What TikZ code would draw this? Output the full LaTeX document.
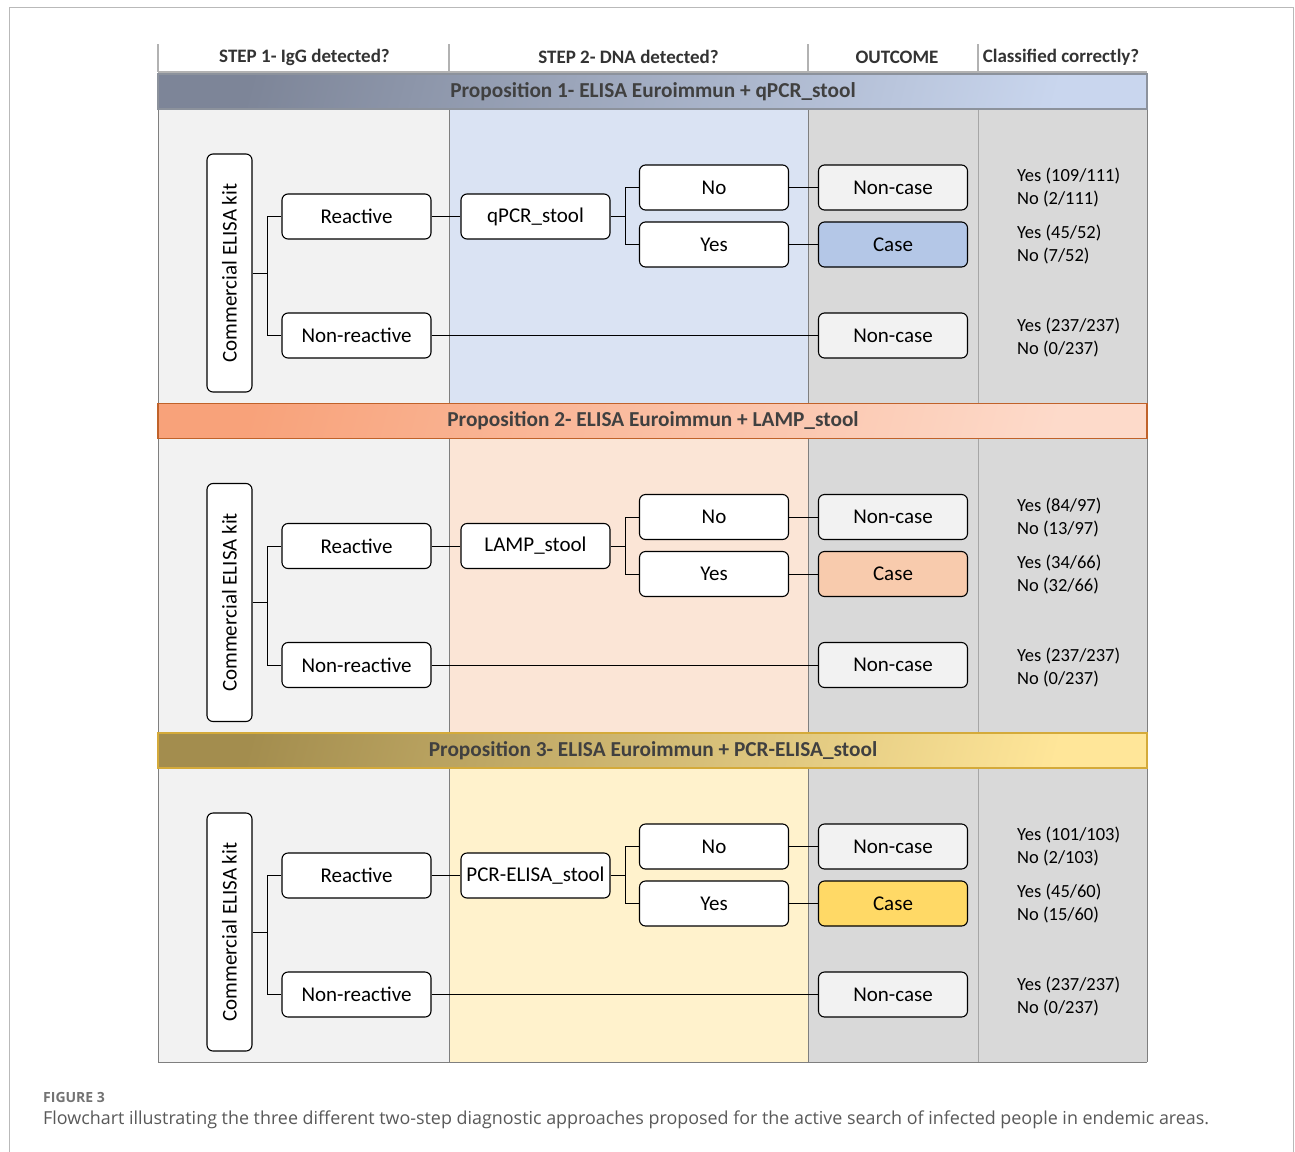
\documentclass[tikz,border=0pt]{standalone}
\usepackage{fontspec}
\setmainfont{Carlito}
\newfontfamily\capfont{Open Sans}
\usetikzlibrary{calc}
\definecolor{leftcol}{HTML}{F2F2F2}
\definecolor{rightcol}{HTML}{D9D9D9}
\definecolor{midA}{HTML}{DAE3F3}
\definecolor{midB}{HTML}{FBE5D6}
\definecolor{midC}{HTML}{FFF2CC}
\definecolor{caseA}{HTML}{B4C7E7}
\definecolor{caseB}{HTML}{F8CBAD}
\definecolor{caseC}{HTML}{FFD966}
\definecolor{banAl}{HTML}{7D8598}
\definecolor{banAr}{HTML}{C9D6EE}
\definecolor{banBl}{HTML}{F8A27A}
\definecolor{banBr}{HTML}{FDDACA}
\definecolor{banCl}{HTML}{A38D4E}
\definecolor{banCr}{HTML}{FFE699}
\definecolor{brdA}{HTML}{8C929C}
\definecolor{brdB}{HTML}{C0622A}
\definecolor{brdC}{HTML}{D4AA3A}
\definecolor{gridgray}{HTML}{7F7F7F}
\definecolor{hdtext}{HTML}{333333}
\definecolor{bantext}{HTML}{404040}
\tikzset{
  box/.style={draw=black, rounded corners=6pt, line width=1.1pt, fill=white,
    minimum width=149pt, minimum height=45pt, inner sep=0pt,
    font=\fontsize{21}{25}\selectfont},
  conn/.style={draw=black, line width=1pt},
  num/.style={anchor=west, align=left, inner sep=0pt,
    font=\fontsize{18.5}{23}\selectfont},
  hd/.style={inner sep=0pt, text=hdtext, font=\bfseries\fontsize{19}{22}\selectfont},
  bantitle/.style={inner sep=0pt, text=bantext, font=\bfseries\fontsize{21.3}{25}\selectfont},
}
% #1 idx, #2 offset, #3 test, #4 mid colour, #5 case colour, #6 banner left, #7 banner right, #8 border, #9 title
\newcommand{\myprop}[9]{%
\begin{scope}[yshift=-#2pt]
  \fill[leftcol] (158,109) rectangle (449,403);
  \fill[#4] (449,109) rectangle (808,403);
  \fill[rightcol] (808,109) rectangle (1147,403);
  \draw[gridgray, line width=1pt] (449,109) -- (449,403);
  \draw[gridgray, line width=1pt] (808,109) -- (808,403);
  \draw[gray!70, line width=1pt] (978,109) -- (978,403);
  \draw[gridgray, line width=1pt] (158,109) -- (158,403);
  \draw[gridgray, line width=1pt] (1147,109) -- (1147,403);
  \path[draw=#8, line width=1.3pt, left color=#6, right color=#7, shading angle=75] (158,74) rectangle (1147,109);
  \node[bantitle] (ban#1) at (653,91.5) {#9};
  \node[box, rotate=90, minimum width=238pt] (kit#1) at (229.5,273) {Commercial ELISA kit};
  \node[box] (re#1) at (356.5,216.5) {Reactive};
  \node[box] (nr#1) at (356.5,335.5) {Non-reactive};
  \node[box] (te#1) at (535.5,216.5) {#3};
  \node[box] (no#1) at (714,187.5) {No};
  \node[box] (ye#1) at (714,244.5) {Yes};
  \node[box, fill=leftcol] (nc#1) at (893,187.5) {Non-case};
  \node[box, fill=#5] (ca#1) at (893,244.5) {Case};
  \node[box, fill=leftcol] (nd#1) at (893,335.5) {Non-case};
  \draw[conn] (kit#1.south) -- ++(15,0) coordinate (k#1);
  \draw[conn] (k#1) |- (re#1.west);
  \draw[conn] (k#1) |- (nr#1.west);
  \draw[conn] (re#1) -- (te#1);
  \draw[conn] (te#1.east) -- ++(15,0) coordinate (t#1);
  \draw[conn] (t#1) |- (no#1.west);
  \draw[conn] (t#1) |- (ye#1.west);
  \draw[conn] (no#1) -- (nc#1);
  \draw[conn] (ye#1) -- (ca#1);
  \draw[conn] (nr#1) -- (nd#1);
\end{scope}}
\newcommand{\mynums}[5]{%
\begin{scope}[yshift=-#2pt]
  \node[num] (na#1) at (1017,188) {#3};
  \node[num] (nb#1) at (1017,245) {#4};
  \node[num] (nn#1) at (1017,338) {#5};
\end{scope}}
\begin{document}
\begin{tikzpicture}[x=1pt,y=-1pt]
\useasboundingbox (0,0) rectangle (1295,1151);
\fill[white] (0,0) rectangle (1295,1151);
% outer frame
\draw[gray!55, line width=1.3pt] (9.5,1160) -- (9.5,7.5) -- (1293.5,7.5) -- (1293.5,1160);
% header
\foreach \xx in {158,449,808,978} \draw[gray!60, line width=1.3pt] (\xx,44) -- (\xx,72);
\draw[gray!60, line width=2pt] (158,72) -- (1147,72);
\node[hd] (h1) at (304.5,57) {STEP 1- IgG detected?};
\node[hd] (h2) at (628.5,57) {STEP 2- DNA detected?};
\node[hd] (h3) at (897,57) {OUTCOME};
\node[hd] (h4) at (1061,57) {Classified correctly?};
\myprop{1}{0}{qPCR\_stool}{midA}{caseA}{banAl}{banAr}{brdA}{Proposition 1- ELISA Euroimmun + qPCR\_stool}
\myprop{2}{329.5}{LAMP\_stool}{midB}{caseB}{banBl}{banBr}{brdB}{Proposition 2- ELISA Euroimmun + LAMP\_stool}
\myprop{3}{659}{PCR-ELISA\_stool}{midC}{caseC}{banCl}{banCr}{brdC}{Proposition 3- ELISA Euroimmun + PCR-ELISA\_stool}
\mynums{1}{0}{Yes (109/111)\\No (2/111)}{Yes (45/52)\\No (7/52)}{Yes (237/237)\\No (0/237)}
\mynums{2}{329.5}{Yes (84/97)\\No (13/97)}{Yes (34/66)\\No (32/66)}{Yes (237/237)\\No (0/237)}
\mynums{3}{659}{Yes (101/103)\\No (2/103)}{Yes (45/60)\\No (15/60)}{Yes (237/237)\\No (0/237)}
\draw[gridgray, line width=1pt] (158,1062) -- (1147,1062);
% caption
\node[anchor=west, inner sep=0pt, text=black!55, font=\capfont\bfseries\fontsize{14}{16}\selectfont] (figlab) at (43,1097) {FIGURE 3};
\node[anchor=west, inner sep=0pt, text=black!65, font=\capfont\fontsize{17.9}{20}\selectfont] (cap) at (43,1120) {Flowchart illustrating the three different two-step diagnostic approaches proposed for the active search of infected people in endemic areas.};
\end{tikzpicture}
\end{document}
